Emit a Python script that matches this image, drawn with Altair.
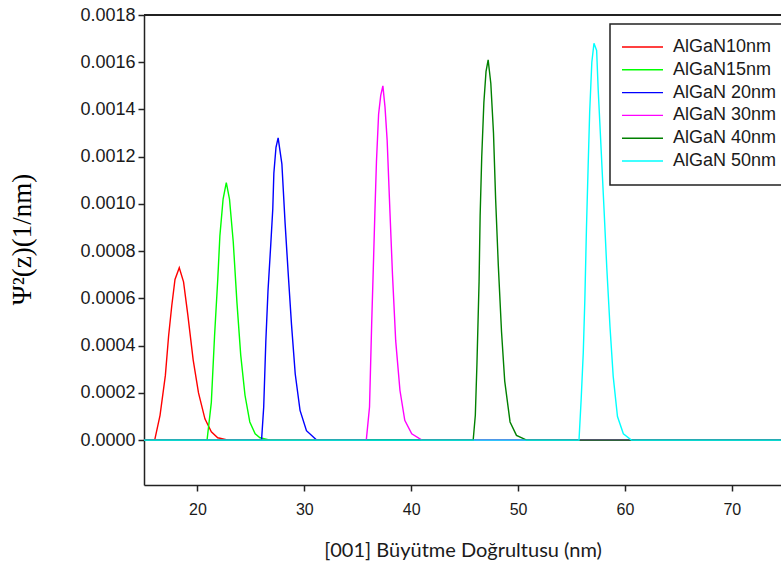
import altair as alt
import pandas as pd

# ---- data ----
names = ["AlGaN10nm", "AlGaN15nm", "AlGaN 20nm", "AlGaN 30nm", "AlGaN 40nm", "AlGaN 50nm"]
colors = ["#FF0000", "#00FF00", "#0000FF", "#FF00FF", "#008000", "#00FFFF"]

x10 = [15.0, 16.0, 16.5, 17.0, 17.3, 17.6, 17.9, 18.3, 18.7, 19.1, 19.6, 20.1, 20.7, 21.3, 21.9, 22.9, 74.6]
y10 = [0, 0, 0.000105, 0.000274, 0.00044, 0.00057, 0.00068, 0.00073, 0.00067, 0.00053, 0.00034, 0.0002,
       0.00009, 0.000035, 0.00001, 0, 0]

x15 = [15.0, 20.9, 21.3, 21.6, 21.9, 22.1, 22.4, 22.7, 23.0, 23.35, 23.7, 24.05, 24.45, 24.9, 25.4, 25.85, 26.8, 74.6]
y15 = [0, 0, 0.00016, 0.00044, 0.00068, 0.000865, 0.00102, 0.00109, 0.00102, 0.00084, 0.00058, 0.00036,
       0.00019, 0.000077, 0.000027, 0.00001, 0, 0]

x20 = [15.0, 26.0, 26.2, 26.4, 26.6, 26.85, 27.05, 27.15, 27.35, 27.55, 27.9, 28.2, 28.5, 28.8, 29.15, 29.6,
       30.2, 31.15, 74.6]
y20 = [0, 0, 0.00014, 0.00042, 0.00063, 0.00082, 0.00098, 0.00113, 0.00124, 0.00128, 0.00117, 0.00092,
       0.0007, 0.00049, 0.00028, 0.000126, 0.00004, 0, 0]

x30 = [15.0, 35.8, 36.1, 36.3, 36.45, 36.6, 36.75, 36.95, 37.15, 37.35, 37.55, 37.75, 38.0, 38.25, 38.55,
       38.95, 39.4, 40.05, 41.0, 74.6]
y30 = [0, 0, 0.00014, 0.00049, 0.00072, 0.00096, 0.00118, 0.00138, 0.00146, 0.0015, 0.00141, 0.00127,
       0.00098, 0.0007, 0.00042, 0.00021, 0.000084, 0.000027, 0, 0]

x40 = [15.0, 45.8, 46.0, 46.15, 46.35, 46.45, 46.6, 46.8, 47.0, 47.2, 47.45, 47.7, 47.9, 48.15, 48.45,
       48.75, 49.25, 49.85, 50.8, 74.6]
y40 = [0, 0, 0.000105, 0.00032, 0.00067, 0.00095, 0.0012, 0.00143, 0.00156, 0.00161, 0.00151, 0.0013,
       0.00102, 0.00074, 0.00046, 0.00025, 0.000077, 0.00002, 0, 0]

x50 = [15.0, 55.7, 55.9, 56.1, 56.25, 56.4, 56.55, 56.7, 56.9, 57.1, 57.35, 57.5, 57.75, 58.05, 58.3,
       58.6, 58.9, 59.3, 59.85, 60.6, 74.6]
y50 = [0, 0, 0.00017, 0.00037, 0.0006, 0.0009, 0.00115, 0.00139, 0.0016, 0.00168, 0.00165, 0.00148,
       0.00125, 0.00097, 0.00073, 0.00048, 0.00027, 0.0001, 0.000027, 0, 0]

x_ticks = [20, 30, 40, 50, 60, 70]
y_ticks = [0, 0.0002, 0.0004, 0.0006, 0.0008, 0.001, 0.0012, 0.0014, 0.0016, 0.0018]

series_x = [x10, x15, x20, x30, x40, x50]
series_y = [y10, y15, y20, y30, y40, y50]

rows = []
for k, (name, xs_, ys_) in enumerate(zip(names, series_x, series_y)):
    for xv, yv in zip(xs_, ys_):
        rows.append({"series": name, "z": xv, "psi": yv, "k": k})
df = pd.DataFrame(rows)
leg_df = pd.DataFrame({"series": names})

W, H = 637, 470
AX = "#222222"

xscale = alt.Scale(domain=[15, 74.6], nice=False, zero=False)
yscale = alt.Scale(domain=[-0.00019, 0.0018], nice=False, zero=False)
cscale = alt.Scale(domain=names, range=colors)

x_axis = alt.Axis(values=x_ticks, format="d", grid=False, tickSize=6, tickWidth=1.5, tickColor=AX,
                  domainColor=AX, domainWidth=1.5, labelFont="Liberation Sans", labelFontSize=16,
                  labelColor="#1a1a1a", labelPadding=10,
                  title="[001] Büyütme Doğrultusu (nm)", titleFont="Lato", titleFontSize=20,
                  titleFontWeight="normal", titleColor="#1a1a1a", titleY=65, titleBaseline="middle")
y_axis = alt.Axis(values=y_ticks, format=".4f", grid=False, tickSize=6, tickWidth=1.5, tickColor=AX,
                  domainColor=AX, domainWidth=1.5, labelFont="Liberation Sans", labelFontSize=18,
                  labelColor="#1a1a1a", labelPadding=3,
                  title="Ψ²(z)(1/nm)", titleFont="Liberation Serif", titleFontSize=27,
                  titleFontWeight="normal", titleColor="#000000", titleAngle=270, titleX=-122,
                  titleY=224, titleAlign="center", titleBaseline="middle")

X = alt.X("z:Q", scale=xscale, axis=x_axis)
Y = alt.Y("psi:Q", scale=yscale, axis=y_axis)
C = alt.Color("series:N", scale=cscale, legend=None)

layers = []
for k, name in enumerate(names):
    layers.append(
        alt.Chart(df).transform_filter(alt.datum.k == k).mark_line(strokeWidth=1.4, clip=True).encode(
            x=X, y=Y, color=C, order=alt.Order("z:Q"),
        )
    )

top_border = alt.Chart(df).mark_rule(color=AX, strokeWidth=1.5).encode(
    x=alt.value(0), x2=alt.value(W), y=alt.value(0)
)
plot = alt.layer(*layers, top_border)

# ---- legend drawn as marks ----
leg_y = alt.Y("series:N", scale=alt.Scale(type="point", domain=names, range=[32, 146], padding=0),
              axis=None)
leg_box = alt.Chart(leg_df).mark_rect(fill="white", stroke=AX, strokeWidth=1.5).encode(
    x=alt.value(466), x2=alt.value(700), y=alt.value(9), y2=alt.value(170)
).transform_filter(alt.datum.series == names[0])
leg_lines = alt.Chart(leg_df).mark_rule(strokeWidth=1.4).encode(
    x=alt.value(478), x2=alt.value(519), y=leg_y, color=C
)
leg_text = alt.Chart(leg_df).mark_text(align="left", baseline="middle", font="Liberation Sans",
                                       fontSize=18, color="#1a1a1a").encode(
    x=alt.value(529), y=leg_y, text="series:N"
)
leg = alt.layer(leg_box, leg_lines, leg_text)

chart = alt.layer(plot, leg).resolve_scale(y="independent").properties(
    width=W, height=H,
    autosize=alt.AutoSizeParams(type="none"),
    padding={"left": 144, "top": 15, "right": 0, "bottom": 83},
    background="white",
).configure_view(stroke=None)

chart.save("out.html", embed_options={"renderer": "svg", "actions": False})
